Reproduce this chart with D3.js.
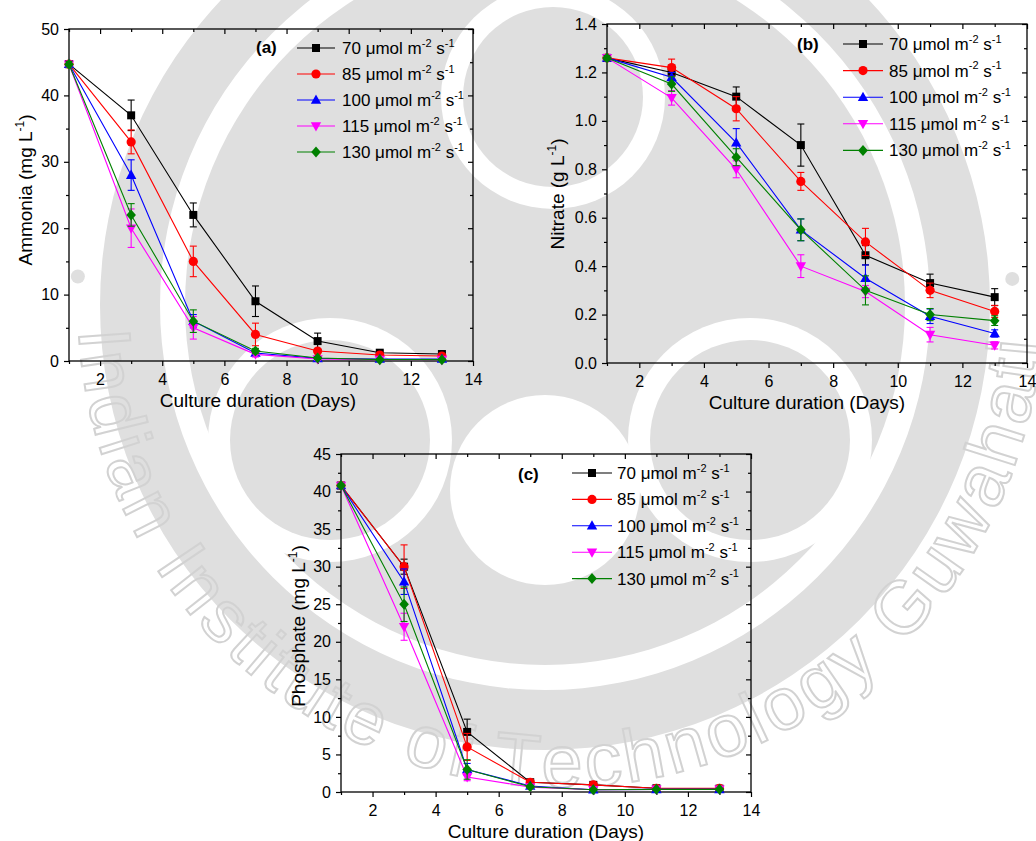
<!DOCTYPE html>
<html>
<head>
<meta charset="utf-8">
<script src="https://cdn.jsdelivr.net/npm/d3@7"></script>
<style>
body { margin: 0; background: #fff; }
svg text { font-family: "Liberation Sans", Arial, sans-serif; fill: #000; }
</style>
</head>
<body>
<div id="chart"></div>
<script>
// Width and height of the whole figure
var width = 1036;
var height = 841;

// Sampling days (x values shared by all panels)
var days = [1, 3, 5, 7, 9, 11, 13];

// Light intensities (legend) and the style of each series
var intensities = ["70", "85", "100", "115", "130"];
var seriesColors = ["#000000", "#ff0000", "#0000ff", "#ff00ff", "#008000"];
var seriesShapes = ["square", "circle", "up", "down", "diamond"];

// (a) Ammonia, mg/L  - one row per intensity
var ammoniaMean = [
  [44.7, 37, 22, 9, 3, 1.25, 1.05],
  [44.7, 33, 15, 4, 1.5, 0.9, 0.75],
  [44.7, 28, 6, 1.2, 0.4, 0.3, 0.3],
  [44.7, 20, 5, 1.0, 0.3, 0.2, 0.2],
  [44.7, 22, 6, 1.5, 0.45, 0.2, 0.2]
];
var ammoniaErr = [
  [0.5, 2.3, 1.8, 2.3, 1.2, 0.3, 0.2],
  [0.4, 1.8, 2.3, 1.7, 0.3, 0.2, 0.2],
  [0.4, 2.3, 1.0, 0.3, 0.2, 0.1, 0.1],
  [0.4, 2.9, 1.7, 0.4, 0.2, 0.1, 0.1],
  [0.4, 1.7, 1.7, 0.4, 0.2, 0.1, 0.1]
];

// (b) Nitrate, g/L
var nitrateMean = [
  [1.26, 1.20, 1.10, 0.90, 0.445, 0.33, 0.272],
  [1.26, 1.22, 1.05, 0.75, 0.50, 0.30, 0.213],
  [1.26, 1.18, 0.91, 0.55, 0.35, 0.193, 0.122],
  [1.26, 1.095, 0.80, 0.40, 0.295, 0.117, 0.073],
  [1.26, 1.152, 0.85, 0.55, 0.30, 0.20, 0.175]
];
var nitrateErr = [
  [0.01, 0.03, 0.04, 0.087, 0.04, 0.037, 0.035],
  [0.01, 0.035, 0.05, 0.037, 0.056, 0.03, 0.025],
  [0.01, 0.02, 0.058, 0.045, 0.055, 0.03, 0.015],
  [0.01, 0.03, 0.035, 0.047, 0.025, 0.03, 0.015],
  [0.01, 0.03, 0.035, 0.045, 0.06, 0.025, 0.02]
];

// (c) Phosphate, mg/L
var phosphateMean = [
  [40.8, 30, 8, 1.3, 0.95, 0.5, 0.45],
  [40.8, 30, 6, 1.3, 0.95, 0.5, 0.5],
  [40.8, 28, 3, 0.8, 0.3, 0.35, 0.35],
  [40.8, 22, 2, 0.65, 0.3, 0.35, 0.35],
  [40.8, 25, 3, 0.7, 0.3, 0.35, 0.35]
];
var phosphateErr = [
  [0.3, 1.0, 1.7, 0.3, 0.2, 0.1, 0.1],
  [0.3, 2.9, 1.8, 0.3, 0.2, 0.1, 0.1],
  [0.3, 1.7, 0.8, 0.2, 0.1, 0.1, 0.1],
  [0.3, 1.8, 0.5, 0.2, 0.1, 0.1, 0.1],
  [0.3, 2.3, 1.3, 0.2, 0.1, 0.1, 0.1]
];

// Axis ticks
var xTicks = [2, 4, 6, 8, 10, 12, 14];
var xMinorTicks = [1, 3, 5, 7, 9, 11, 13];

var svg = d3.select("#chart")
  .append("svg")
  .attr("width", width)
  .attr("height", height);

// ---------- faint watermark (logo + name) behind the plots ----------
var wm = svg.append("g").attr("class", "watermark");
var wmGrey = "#dfdfdf";
var cx = 545, cy = 305;

function polar(r, deg, ox) {
  var a = deg * Math.PI / 180;
  return [(ox || cx) + r * Math.cos(a), cy + r * Math.sin(a)];
}

// outer ring
wm.append("path")
  .attr("d", d3.arc()({ innerRadius: 385, outerRadius: 445, startAngle: 0, endAngle: 2 * Math.PI }))
  .attr("transform", "translate(" + cx + "," + cy + ")")
  .style("fill", wmGrey);

// inner emblem: grey body, white gaps round the three heads, grey heads
wm.append("circle").attr("cx", cx).attr("cy", cy).attr("r", 360).style("fill", wmGrey);
var heads = [[553, 97, 90], [330, 440, 100], [750, 440, 100]];
heads.forEach(function(h) {
  wm.append("circle").attr("cx", h[0]).attr("cy", h[1]).attr("r", h[2] + 22).style("fill", "#fff");
});
wm.append("circle").attr("cx", 545).attr("cy", 490).attr("r", 95).style("fill", "#fff");
heads.forEach(function(h) {
  wm.append("circle").attr("cx", h[0]).attr("cy", h[1]).attr("r", h[2]).style("fill", wmGrey);
});

// name written round the lower half, one glyph at a time
var nameText = "Indian Institute of Technology Guwahati";
var textCx = 560, textR = 482, startDeg = 177, nameSize = 74, nameSpacing = 4;
var probe = wm.append("text").style("font-size", nameSize + "px");
var run = 0;
nameText.split("").forEach(function(ch) {
  probe.text(ch === " " ? "\u00a0" : ch);
  var w = probe.node().getComputedTextLength();
  var deg = startDeg - (run + w / 2) / textR * 180 / Math.PI;
  run += w + nameSpacing;
  if (ch === " ") return;
  var p = polar(textR, deg, textCx);
  wm.append("text")
    .attr("transform", "translate(" + p[0] + "," + p[1] + ") rotate(" + (deg - 90) + ")")
    .attr("text-anchor", "middle")
    .style("font-size", nameSize + "px")
    .style("fill", "none")
    .style("stroke", "#d2d2d2")
    .style("stroke-width", 2)
    .text(ch);
});
probe.remove();

[polar(468, 183.5), polar(468, -3.2)].forEach(function(pt) {
  wm.append("circle").attr("cx", pt[0]).attr("cy", pt[1]).attr("r", 7).style("fill", wmGrey);
});

// ---------- panels ----------
var panels = [
  { tag: "(a)", mean: ammoniaMean, err: ammoniaErr, yMax: 50,
    yTicks: [0, 10, 20, 30, 40, 50], yMinor: [5, 15, 25, 35, 45], fmt: d3.format("d"),
    yTitle: "Ammonia (mg L", left: 69, right: 473, top: 29, bottom: 361,
    yTitleX: 32, yTitleY: 190, xTitleX: 258,
    tagX: 256, tagY: 53, legX1: 297, legX2: 335, legTX: 342, legY: 48, legDY: 26 },
  { tag: "(b)", mean: nitrateMean, err: nitrateErr, yMax: 1.4,
    yTicks: [0, 0.2, 0.4, 0.6, 0.8, 1.0, 1.2, 1.4], yMinor: [0.1, 0.3, 0.5, 0.7, 0.9, 1.1, 1.3], fmt: d3.format(".1f"),
    yTitle: "Nitrate (g L", left: 607, right: 1027, top: 24, bottom: 363,
    yTitleX: 564, yTitleY: 194, xTitleX: 807,
    tagX: 797, tagY: 50, legX1: 843, legX2: 883, legTX: 889, legY: 44, legDY: 26.6 },
  { tag: "(c)", mean: phosphateMean, err: phosphateErr, yMax: 45,
    yTicks: [0, 5, 10, 15, 20, 25, 30, 35, 40, 45], yMinor: [2.5, 7.5, 12.5, 17.5, 22.5, 27.5, 32.5, 37.5, 42.5], fmt: d3.format("d"),
    yTitle: "Phosphate (mg L", left: 341, right: 751, top: 454, bottom: 792,
    yTitleX: 305, yTitleY: 626, xTitleX: 546,
    tagX: 518, tagY: 480, legX1: 572, legX2: 612, legTX: 617, legY: 473, legDY: 26.4 }
];

// draw one marker of the given shape centred on (x, y)
function marker(g, shape, x, y, color) {
  if (shape === "circle") {
    g.append("circle").attr("cx", x).attr("cy", y).attr("r", 4.6).style("fill", color);
    return;
  }
  var pts;
  if (shape === "square") pts = [[-4, -4], [4, -4], [4, 4], [-4, 4]];
  if (shape === "up") pts = [[0, -5.5], [5.2, 3.8], [-5.2, 3.8]];
  if (shape === "down") pts = [[0, 5.5], [5.2, -3.8], [-5.2, -3.8]];
  if (shape === "diamond") pts = [[0, -5.5], [4.8, 0], [0, 5.5], [-4.8, 0]];
  g.append("polygon")
    .attr("points", pts.map(function(p) { return (x + p[0]) + "," + (y + p[1]); }).join(" "))
    .style("fill", color);
}

// text with "m-2 s-1" style superscripts: parts = [[text, isSup], ...]
function richText(t, parts, size, supSize) {
  parts.forEach(function(p, k) {
    var prevSup = k > 0 && parts[k - 1][1];
    var ts = t.append("tspan").text(p[0]);
    if (p[1]) ts.style("font-size", supSize + "px").attr("dy", -0.42 * size);
    else if (prevSup) ts.attr("dy", 0.42 * size);
  });
}

panels.forEach(function(P) {
  var g = svg.append("g");
  var x = d3.scaleLinear().domain([1, 14]).range([P.left, P.right]);
  var y = d3.scaleLinear().domain([0, P.yMax]).range([P.bottom, P.top]);

  // axes: outward ticks on left/bottom, inward ticks on right/top
  function styleAxis(sel) {
    sel.select(".domain").remove();
    sel.selectAll("line").style("stroke", "#000").style("stroke-width", 1.2);
    sel.selectAll("text").style("font-size", "16px").style("fill", "#000")
      .style("font-family", "'Liberation Sans', Arial, sans-serif");
  }
  g.append("g").attr("transform", "translate(0," + P.bottom + ")")
    .call(d3.axisBottom(x).tickValues(xTicks).tickSize(5).tickPadding(8).tickFormat(d3.format("d")))
    .call(styleAxis);
  g.append("g").attr("transform", "translate(0," + P.bottom + ")")
    .call(d3.axisBottom(x).tickValues(xMinorTicks).tickSize(3).tickFormat(""))
    .call(styleAxis);
  g.append("g").attr("transform", "translate(0," + P.top + ")")
    .call(d3.axisBottom(x).tickValues(xTicks).tickSize(5).tickFormat(""))
    .call(styleAxis);
  g.append("g").attr("transform", "translate(0," + P.top + ")")
    .call(d3.axisBottom(x).tickValues(xMinorTicks).tickSize(3).tickFormat(""))
    .call(styleAxis);
  g.append("g").attr("transform", "translate(" + P.left + ",0)")
    .call(d3.axisLeft(y).tickValues(P.yTicks).tickSize(5).tickPadding(5).tickFormat(P.fmt))
    .call(styleAxis);
  g.append("g").attr("transform", "translate(" + P.left + ",0)")
    .call(d3.axisLeft(y).tickValues(P.yMinor).tickSize(3).tickFormat(""))
    .call(styleAxis);
  g.append("g").attr("transform", "translate(" + P.right + ",0)")
    .call(d3.axisLeft(y).tickValues(P.yTicks).tickSize(5).tickFormat(""))
    .call(styleAxis);
  g.append("g").attr("transform", "translate(" + P.right + ",0)")
    .call(d3.axisLeft(y).tickValues(P.yMinor).tickSize(3).tickFormat(""))
    .call(styleAxis);

  g.append("rect")
    .attr("x", P.left).attr("y", P.top)
    .attr("width", P.right - P.left).attr("height", P.bottom - P.top)
    .style("fill", "none").style("stroke", "#000").style("stroke-width", 1.3);

  // axis titles
  g.append("text")
    .attr("x", P.xTitleX).attr("y", P.bottom + 46)
    .attr("text-anchor", "middle")
    .style("font-size", "19px")
    .text("Culture duration (Days)");
  var yt = g.append("text")
    .attr("transform", "translate(" + P.yTitleX + "," + P.yTitleY + ") rotate(-90)")
    .attr("text-anchor", "middle")
    .style("font-size", "19px");
  richText(yt, [[P.yTitle, false], ["-1", true], [")", false]], 19, 12);

  // series
  var line = d3.line().x(function(d) { return x(d[0]); }).y(function(d) { return y(d[1]); });
  P.mean.forEach(function(vals, si) {
    var color = seriesColors[si];
    var pts = days.map(function(d, k) { return [d, vals[k], P.err[si][k]]; });
    g.append("path").datum(pts).attr("d", line)
      .style("fill", "none").style("stroke", color).style("stroke-width", 1.1);
    pts.forEach(function(p) {
      var xx = x(p[0]), y1 = y(p[1] - p[2]), y2 = y(p[1] + p[2]);
      g.append("line").attr("x1", xx).attr("x2", xx).attr("y1", y1).attr("y2", y2)
        .style("stroke", color).style("stroke-width", 1.1);
      [y1, y2].forEach(function(yy) {
        g.append("line").attr("x1", xx - 3.5).attr("x2", xx + 3.5).attr("y1", yy).attr("y2", yy)
          .style("stroke", color).style("stroke-width", 1.1);
      });
    });
    pts.forEach(function(p) { marker(g, seriesShapes[si], x(p[0]), y(p[1]), color); });
  });

  // panel tag
  g.append("text").attr("x", P.tagX).attr("y", P.tagY)
    .style("font-size", "17px").style("font-weight", "bold").text(P.tag);

  // legend
  intensities.forEach(function(name, si) {
    var ly = P.legY + si * P.legDY;
    g.append("line").attr("x1", P.legX1).attr("x2", P.legX2).attr("y1", ly).attr("y2", ly)
      .style("stroke", seriesColors[si]).style("stroke-width", 1.1);
    marker(g, seriesShapes[si], (P.legX1 + P.legX2) / 2, ly, seriesColors[si]);
    var t = g.append("text").attr("x", P.legTX).attr("y", ly + 6).style("font-size", "17px");
    richText(t, [[name + " \u03bcmol m", false], ["-2", true], [" s", false], ["-1", true]], 17, 11);
  });
});
</script>
</body>
</html>
